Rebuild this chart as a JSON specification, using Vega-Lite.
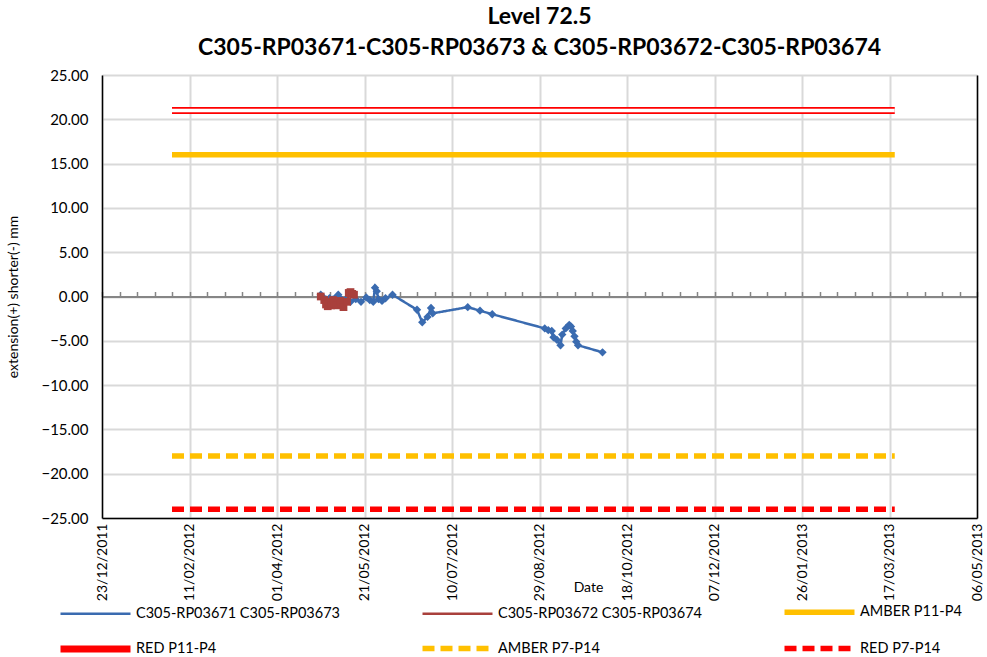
{
  "$schema": "https://vega.github.io/schema/vega-lite/v6.json",
  "width": 875,
  "height": 443,
  "autosize": {"type": "none"},
  "padding": {"left": 102, "top": 75, "right": 10, "bottom": 139},
  "background": "white",
  "title": {
    "text": ["Level 72.5", "C305-RP03671-C305-RP03673 & C305-RP03672-C305-RP03674"],
    "fontSize": 23,
    "font": "Lato, sans-serif",
    "fontWeight": "bold",
    "color": "#000000",
    "lineHeight": 31,
    "anchor": "middle",
    "offset": 8
  },
  "config": {
    "view": {"stroke": null},
    "font": "Lato, sans-serif",
    "axis": {"labelColor": "#000000", "titleColor": "#000000", "titleFontWeight": "normal"},
    "legend": {
      "orient": "none",
      "direction": "horizontal",
      "legendX": -27.5,
      "legendY": 515,
      "columns": 3,
      "symbolType": "M-2,0H2",
      "symbolSize": 1225,
      "labelFontSize": 14.5,
      "labelColor": "#000000",
      "labelOffset": 19.5,
      "rowPadding": 3,
      "columnPadding": 71,
      "gridAlign": "all",
      "labelLimit": 400,
      "title": null
    }
  },
  "datasets": {
    "all": [
      {"date": "2012-04-26", "value": 0.2, "series": "C305-RP03671 C305-RP03673"},
      {"date": "2012-05-01", "value": -0.2, "series": "C305-RP03671 C305-RP03673"},
      {"date": "2012-05-06", "value": 0.2, "series": "C305-RP03671 C305-RP03673"},
      {"date": "2012-05-10", "value": -0.4, "series": "C305-RP03671 C305-RP03673"},
      {"date": "2012-05-13", "value": -0.6, "series": "C305-RP03671 C305-RP03673"},
      {"date": "2012-05-16", "value": -0.3, "series": "C305-RP03671 C305-RP03673"},
      {"date": "2012-05-19", "value": -0.6, "series": "C305-RP03671 C305-RP03673"},
      {"date": "2012-05-22", "value": -0.1, "series": "C305-RP03671 C305-RP03673"},
      {"date": "2012-05-24", "value": -0.4, "series": "C305-RP03671 C305-RP03673"},
      {"date": "2012-05-26", "value": -0.6, "series": "C305-RP03671 C305-RP03673"},
      {"date": "2012-05-27", "value": 1.0, "series": "C305-RP03671 C305-RP03673"},
      {"date": "2012-05-28", "value": 0.6, "series": "C305-RP03671 C305-RP03673"},
      {"date": "2012-05-29", "value": -0.3, "series": "C305-RP03671 C305-RP03673"},
      {"date": "2012-05-31", "value": -0.5, "series": "C305-RP03671 C305-RP03673"},
      {"date": "2012-06-02", "value": -0.2, "series": "C305-RP03671 C305-RP03673"},
      {"date": "2012-06-06", "value": 0.2, "series": "C305-RP03671 C305-RP03673"},
      {"date": "2012-06-20", "value": -1.5, "series": "C305-RP03671 C305-RP03673"},
      {"date": "2012-06-23", "value": -2.9, "series": "C305-RP03671 C305-RP03673"},
      {"date": "2012-06-26", "value": -2.3, "series": "C305-RP03671 C305-RP03673"},
      {"date": "2012-06-28", "value": -1.3, "series": "C305-RP03671 C305-RP03673"},
      {"date": "2012-06-29", "value": -1.9, "series": "C305-RP03671 C305-RP03673"},
      {"date": "2012-07-19", "value": -1.2, "series": "C305-RP03671 C305-RP03673"},
      {"date": "2012-07-26", "value": -1.6, "series": "C305-RP03671 C305-RP03673"},
      {"date": "2012-08-02", "value": -2.0, "series": "C305-RP03671 C305-RP03673"},
      {"date": "2012-09-01", "value": -3.6, "series": "C305-RP03671 C305-RP03673"},
      {"date": "2012-09-03", "value": -3.8, "series": "C305-RP03671 C305-RP03673"},
      {"date": "2012-09-05", "value": -3.9, "series": "C305-RP03671 C305-RP03673"},
      {"date": "2012-09-06", "value": -4.6, "series": "C305-RP03671 C305-RP03673"},
      {"date": "2012-09-08", "value": -4.9, "series": "C305-RP03671 C305-RP03673"},
      {"date": "2012-09-10", "value": -5.5, "series": "C305-RP03671 C305-RP03673"},
      {"date": "2012-09-11", "value": -4.3, "series": "C305-RP03671 C305-RP03673"},
      {"date": "2012-09-13", "value": -3.6, "series": "C305-RP03671 C305-RP03673"},
      {"date": "2012-09-15", "value": -3.2, "series": "C305-RP03671 C305-RP03673"},
      {"date": "2012-09-16", "value": -3.4, "series": "C305-RP03671 C305-RP03673"},
      {"date": "2012-09-17", "value": -3.9, "series": "C305-RP03671 C305-RP03673"},
      {"date": "2012-09-18", "value": -4.5, "series": "C305-RP03671 C305-RP03673"},
      {"date": "2012-09-19", "value": -5.1, "series": "C305-RP03671 C305-RP03673"},
      {"date": "2012-09-20", "value": -5.5, "series": "C305-RP03671 C305-RP03673"},
      {"date": "2012-10-04", "value": -6.3, "series": "C305-RP03671 C305-RP03673"},
      {"date": "2012-04-26", "value": 0.0, "series": "C305-RP03672 C305-RP03674"},
      {"date": "2012-04-28", "value": -0.4, "series": "C305-RP03672 C305-RP03674"},
      {"date": "2012-04-29", "value": -0.9, "series": "C305-RP03672 C305-RP03674"},
      {"date": "2012-04-30", "value": -1.1, "series": "C305-RP03672 C305-RP03674"},
      {"date": "2012-05-01", "value": -0.6, "series": "C305-RP03672 C305-RP03674"},
      {"date": "2012-05-02", "value": -1.0, "series": "C305-RP03672 C305-RP03674"},
      {"date": "2012-05-03", "value": -0.4, "series": "C305-RP03672 C305-RP03674"},
      {"date": "2012-05-04", "value": -0.8, "series": "C305-RP03672 C305-RP03674"},
      {"date": "2012-05-05", "value": -1.0, "series": "C305-RP03672 C305-RP03674"},
      {"date": "2012-05-07", "value": -0.5, "series": "C305-RP03672 C305-RP03674"},
      {"date": "2012-05-08", "value": -0.8, "series": "C305-RP03672 C305-RP03674"},
      {"date": "2012-05-09", "value": -1.2, "series": "C305-RP03672 C305-RP03674"},
      {"date": "2012-05-11", "value": -0.6, "series": "C305-RP03672 C305-RP03674"},
      {"date": "2012-05-12", "value": 0.4, "series": "C305-RP03672 C305-RP03674"},
      {"date": "2012-05-13", "value": 0.5, "series": "C305-RP03672 C305-RP03674"},
      {"date": "2012-05-14", "value": 0.3, "series": "C305-RP03672 C305-RP03674"},
      {"date": "2012-05-15", "value": 0.2, "series": "C305-RP03672 C305-RP03674"},
      {"date": "2012-02-01", "value": 16, "series": "AMBER P11-P4"},
      {"date": "2013-03-20", "value": 16, "series": "AMBER P11-P4"},
      {"date": "2012-02-01", "value": 21, "series": "RED P11-P4"},
      {"date": "2013-03-20", "value": 21, "series": "RED P11-P4"},
      {"date": "2012-02-01", "value": -18, "series": "AMBER P7-P14"},
      {"date": "2013-03-20", "value": -18, "series": "AMBER P7-P14"},
      {"date": "2012-02-01", "value": -24, "series": "RED P7-P14"},
      {"date": "2013-03-20", "value": -24, "series": "RED P7-P14"}
    ]
  },
  "data": {"name": "all"},
  "layer": [
    {
      "mark": {"type": "line", "strokeCap": "butt"},
      "encoding": {
        "x": {
          "field": "date", "type": "temporal",
          "scale": {"type": "utc", "domain": [1324598400000, 1367798400000], "nice": false},
          "axis": {
            "orient": "bottom",
            "title": "Date",
            "titleFontSize": 14,
            "titleX": 486,
            "titleY": 62,
            "values": [1324598400000, 1328918400000, 1333238400000, 1337558400000, 1341878400000, 1346198400000, 1350518400000, 1354838400000, 1359158400000, 1363478400000, 1367798400000],
            "labelExpr": "utcFormat(datum.value, '%d/%m/%Y')",
            "labelAngle": 270,
            "labelFontSize": 14,
            "labelPadding": 5,
            "labelOverlap": false,
            "labelFlush": false,
            "ticks": false,
            "grid": true,
            "gridColor": "#d9d9d9",
            "gridWidth": 2,
            "domainColor": "#000000",
            "domainWidth": 1.5
          }
        },
        "y": {
          "field": "value", "type": "quantitative",
          "scale": {"domain": [-25, 25], "nice": false},
          "axis": {
            "orient": "left",
            "title": "extension(+) shorter(-) mm",
            "titleFontSize": 14,
            "titlePadding": 20,
            "values": [-25, -20, -15, -10, -5, 0, 5, 10, 15, 20, 25],
            "format": ".2f",
            "labelFontSize": 15,
            "labelPadding": 14,
            "ticks": false,
            "grid": true,
            "gridColor": "#d9d9d9",
            "gridWidth": 2,
            "domainColor": "#000000",
            "domainWidth": 1.5
          }
        },
        "color": {
          "field": "series", "type": "nominal",
          "scale": {
            "domain": ["C305-RP03671 C305-RP03673", "C305-RP03672 C305-RP03674", "AMBER P11-P4", "RED P11-P4", "AMBER P7-P14", "RED P7-P14"],
            "range": ["#3a6bb0", "#a9403c", "#ffc000", "#ff0000", "#ffc000", "#ff0000"]
          }
        },
        "strokeDash": {
          "field": "series", "type": "nominal",
          "scale": {
            "domain": ["C305-RP03671 C305-RP03673", "C305-RP03672 C305-RP03674", "AMBER P11-P4", "RED P11-P4", "AMBER P7-P14", "RED P7-P14"],
            "range": [[1, 0], [1, 0], [1, 0], [1, 0], [12, 6], [12, 6]]
          }
        },
        "strokeWidth": {
          "field": "series", "type": "ordinal",
          "scale": {
            "type": "ordinal",
            "domain": ["C305-RP03671 C305-RP03673", "C305-RP03672 C305-RP03674", "AMBER P11-P4", "RED P11-P4", "AMBER P7-P14", "RED P7-P14"],
            "range": [2.5, 2.5, 5.5, 7, 5.5, 5.5]
          }
        }
      }
    },
    {
      "transform": [{"filter": "datum.series === 'RED P11-P4'"}],
      "mark": {"type": "line", "color": "#ffffff", "strokeWidth": 3.5, "strokeCap": "butt"},
      "encoding": {
        "x": {"field": "date", "type": "temporal", "axis": null},
        "y": {"field": "value", "type": "quantitative", "axis": null}
      }
    },
    {
      "transform": [{"filter": "datum.series === 'C305-RP03671 C305-RP03673'"}],
      "mark": {"type": "point", "shape": "diamond", "filled": true, "color": "#3a6bb0", "size": 70, "opacity": 1},
      "encoding": {
        "x": {
          "field": "date", "type": "temporal",
          "axis": {
            "orient": "top",
            "offset": -221.5,
            "title": null,
            "labels": false,
            "grid": false,
            "values": [1324598400000, 1325462400000, 1326326400000, 1327190400000, 1328054400000, 1328918400000, 1329782400000, 1330646400000, 1331510400000, 1332374400000, 1333238400000, 1334102400000, 1334966400000, 1335830400000, 1336694400000, 1337558400000, 1338422400000, 1339286400000, 1340150400000, 1341014400000, 1341878400000, 1342742400000, 1343606400000, 1344470400000, 1345334400000, 1346198400000, 1347062400000, 1347926400000, 1348790400000, 1349654400000, 1350518400000, 1351382400000, 1352246400000, 1353110400000, 1353974400000, 1354838400000, 1355702400000, 1356566400000, 1357430400000, 1358294400000, 1359158400000, 1360022400000, 1360886400000, 1361750400000, 1362614400000, 1363478400000, 1364342400000, 1365206400000, 1366070400000, 1366934400000, 1367798400000],
            "tickColor": "#868686",
            "tickSize": 5,
            "tickWidth": 1.5,
            "domainColor": "#868686",
            "domainWidth": 2
          }
        },
        "y": {"field": "value", "type": "quantitative", "axis": null}
      }
    },
    {
      "transform": [{"filter": "datum.series === 'C305-RP03672 C305-RP03674'"}],
      "mark": {"type": "point", "shape": "square", "filled": true, "color": "#a9403c", "size": 60, "opacity": 1},
      "encoding": {
        "x": {"field": "date", "type": "temporal", "axis": null},
        "y": {
          "field": "value", "type": "quantitative",
          "axis": {"orient": "right", "title": null, "labels": false, "ticks": false, "grid": false, "domainColor": "#000000", "domainWidth": 1.5}
        }
      }
    }
  ],
  "resolve": {"axis": {"x": "independent", "y": "independent"}}
}
